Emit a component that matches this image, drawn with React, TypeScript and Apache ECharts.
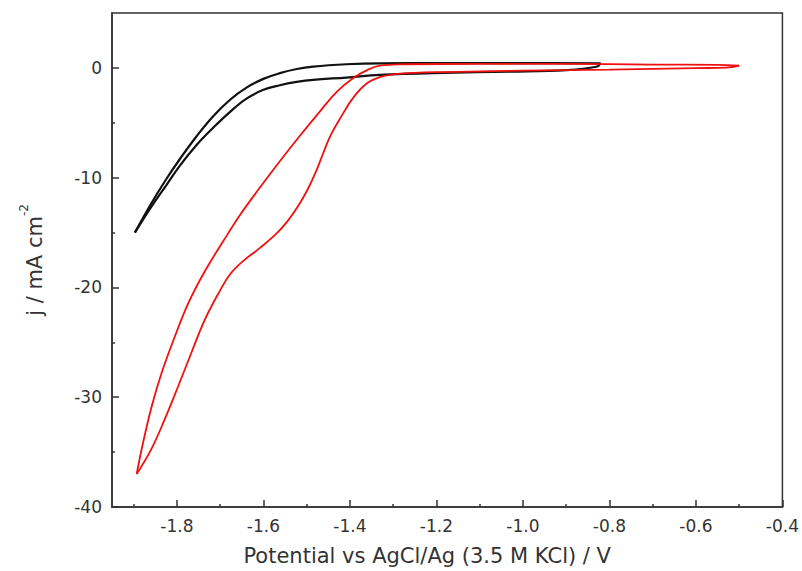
import React, { useEffect, useRef } from "react";
import * as echarts from "echarts";

// Potential (V) vs current density (mA cm^-2)
const blackForward: [number, number][] = [
  [-1.897, -15.0], [-1.86, -12.4], [-1.824, -10.1], [-1.793, -8.3], [-1.754, -6.2],
  [-1.716, -4.4], [-1.677, -2.9], [-1.639, -1.8], [-1.6, -1.0], [-1.562, -0.48],
  [-1.523, -0.1], [-1.485, 0.12], [-1.408, 0.33], [-1.331, 0.42], [-1.2, 0.44],
  [-1.0, 0.44], [-0.82, 0.42],
];
const blackReverse: [number, number][] = [
  [-0.82, 0.42], [-0.83, 0.1], [-0.9, -0.2], [-1.03, -0.34], [-1.185, -0.45],
  [-1.331, -0.64], [-1.408, -0.88], [-1.485, -1.09], [-1.523, -1.28], [-1.562, -1.58],
  [-1.6, -2.0], [-1.639, -2.8], [-1.677, -4.0], [-1.716, -5.45], [-1.754, -7.0],
  [-1.793, -8.9], [-1.823, -10.6], [-1.86, -12.7], [-1.897, -15.0],
];
const redLeft: [number, number][] = [
  [-1.893, -37.0], [-1.878, -34.1], [-1.858, -30.8], [-1.835, -27.75], [-1.804, -24.4],
  [-1.772, -21.3], [-1.735, -18.5], [-1.693, -15.8], [-1.654, -13.4], [-1.608, -10.9],
  [-1.562, -8.5], [-1.516, -6.2], [-1.47, -4.0], [-1.431, -2.2], [-1.393, -0.94],
  [-1.36, -0.2], [-1.331, 0.2], [-1.28, 0.33], [-1.1, 0.36], [-0.9, 0.36],
  [-0.7, 0.3], [-0.55, 0.28], [-0.5, 0.2],
];
const redRight: [number, number][] = [
  [-0.5, 0.2], [-0.53, 0.02], [-0.6, -0.02], [-0.8, -0.15], [-1.0, -0.25],
  [-1.185, -0.38], [-1.25, -0.45], [-1.3, -0.6], [-1.331, -0.85], [-1.362, -1.45],
  [-1.393, -2.75], [-1.418, -4.3], [-1.444, -6.1], [-1.462, -7.8], [-1.479, -9.5],
  [-1.498, -11.1], [-1.52, -12.6], [-1.545, -14.0], [-1.57, -15.1], [-1.608, -16.4],
  [-1.647, -17.6], [-1.677, -18.8], [-1.699, -20.2], [-1.735, -22.9], [-1.766, -25.9],
  [-1.797, -29.0], [-1.828, -32.0], [-1.86, -34.8], [-1.893, -37.0],
];

const xMajorTicks = [-1.8, -1.6, -1.4, -1.2, -1.0, -0.8, -0.6, -0.4];
const xMinorTicks = [-1.9, -1.7, -1.5, -1.3, -1.1, -0.9, -0.7, -0.5];
const yMajorTicks = [-40, -30, -20, -10, 0];
const yMinorTicks = [-35, -25, -15, -5];

const FONT = "DejaVu Sans";
const AXIS_COLOR = "#333";
const TEXT_COLOR = "#333";

export default function App() {
  const ref = useRef<HTMLDivElement>(null);
  useEffect(() => {
    if (!ref.current) return;
    const chart = echarts.init(ref.current, null, { renderer: "svg" });
    const xBase = { type: "value" as const, min: -1.95, max: -0.4, gridIndex: 0, splitLine: { show: false } };
    const yBase = { type: "value" as const, min: -40, max: 5, gridIndex: 0, splitLine: { show: false } };
    const line = (data: [number, number][], color: string, width: number) => ({
      type: "line",
      data,
      showSymbol: false,
      symbol: "none",
      smooth: 0.4,
      lineStyle: { color, width },
      xAxisIndex: 0,
      yAxisIndex: 0,
    });
    chart.setOption({
      animation: false,
      grid: {
        left: 112, right: 18, top: 13, bottom: 62,
        show: true, borderColor: AXIS_COLOR, borderWidth: 1.5, backgroundColor: "transparent",
      },
      xAxis: [
        {
          ...xBase,
          position: "bottom",
          axisLine: { show: true, onZero: false, lineStyle: { color: AXIS_COLOR, width: 1.5 } },
          axisTick: { show: true, inside: true, length: 7, customValues: xMajorTicks, lineStyle: { color: AXIS_COLOR, width: 1.5 } },
          axisLabel: {
            customValues: xMajorTicks, margin: 10, fontFamily: FONT, fontSize: 17, color: TEXT_COLOR,
            formatter: (v: number) => v.toFixed(1),
          },
          name: "Potential vs AgCl/Ag (3.5 M KCl) / V",
          nameLocation: "middle",
          nameGap: 38,
          nameTextStyle: { fontFamily: FONT, fontSize: 21, color: TEXT_COLOR, padding: [0, 40, 0, 0] },
        },
        {
          ...xBase,
          position: "bottom",
          axisLine: { show: false, onZero: false },
          axisTick: { show: true, inside: true, length: 3, customValues: xMinorTicks, lineStyle: { color: AXIS_COLOR, width: 1.5 } },
          axisLabel: { show: false },
        },
      ],
      yAxis: [
        {
          ...yBase,
          position: "left",
          axisLine: { show: true, onZero: false, lineStyle: { color: AXIS_COLOR, width: 1.5 } },
          axisTick: { show: true, inside: true, length: 7, customValues: yMajorTicks, lineStyle: { color: AXIS_COLOR, width: 1.5 } },
          axisLabel: { customValues: yMajorTicks, margin: 10, fontFamily: FONT, fontSize: 17, color: TEXT_COLOR },
          name: "j / mA cm{sup|-2}",
          nameLocation: "middle",
          nameGap: 60,
          nameRotate: 90,
          nameTextStyle: {
            fontFamily: FONT, fontSize: 21, color: TEXT_COLOR,
            rich: { sup: { fontFamily: FONT, fontSize: 12, color: TEXT_COLOR, verticalAlign: "top", padding: [0, 0, 22, 0] } },
          },
        },
        {
          ...yBase,
          position: "left",
          axisLine: { show: false, onZero: false },
          axisTick: { show: true, inside: true, length: 3, customValues: yMinorTicks, lineStyle: { color: AXIS_COLOR, width: 1.5 } },
          axisLabel: { show: false },
        },
      ],
      series: [
        line(blackForward, "#111111", 2.2),
        line(blackReverse, "#111111", 2.2),
        line(redLeft, "#f01010", 1.8),
        line(redRight, "#f01010", 1.8),
      ],
    });
    return () => chart.dispose();
  }, []);
  return (
    <div
      ref={ref}
      style={{ position: "fixed", left: 0, top: 0, width: 802, height: 571, background: "#fff" }}
    />
  );
}
